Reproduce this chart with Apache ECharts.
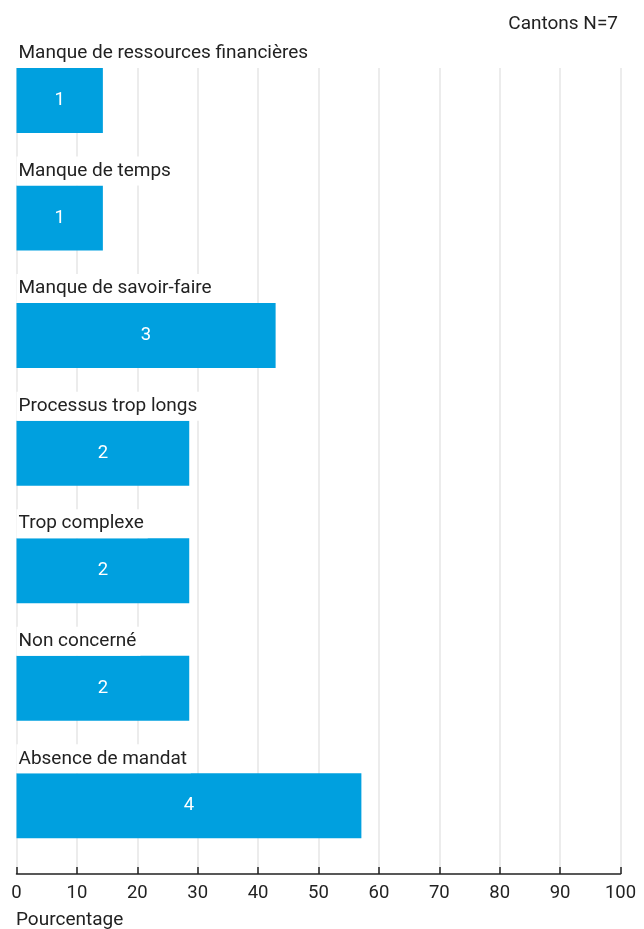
<!DOCTYPE html>
<html>
<head>
<meta charset="utf-8">
<script src="https://cdn.jsdelivr.net/npm/echarts@6/dist/echarts.min.js"></script>
<style>html,body{margin:0;padding:0;background:#fff}#c{width:644px;height:929px}</style>
</head>
<body>
<div id="c"></div>
<script>
var categories = ['Manque de ressources financières','Manque de temps','Manque de savoir-faire','Processus trop longs','Trop complexe','Non concerné','Absence de mandat'];
var percentValues = [14.3, 14.3, 42.9, 28.6, 28.6, 28.6, 57.1];
var countValues = [1, 1, 3, 2, 2, 2, 4];
var xTicks = [0, 10, 20, 30, 40, 50, 60, 70, 80, 90, 100];

var FONT = 'Roboto';
var chart = echarts.init(document.getElementById('c'), null, {renderer: 'canvas'});
chart.setOption({
  animation: false,
  backgroundColor: '#fff',
  textStyle: {fontFamily: FONT},
  title: [
    {text: 'Cantons N=7', right: 21, top: 10, textStyle: {fontFamily: FONT, fontSize: 19, fontWeight: 'normal', color: '#222'}},
    {text: 'Pourcentage', left: 11, top: 906, textStyle: {fontFamily: FONT, fontSize: 19, fontWeight: 'normal', color: '#222'}}
  ],
  grid: [
    {left: 16.5, width: 604, top: 68, bottom: 929 - 874},
    {left: 16.5, width: 604, top: 41.7, height: 822.9}
  ],
  xAxis: [
    {gridIndex: 0, type: 'value', min: 0, max: 100, interval: 10,
     axisLine: {show: true, lineStyle: {color: '#222', width: 1.5}},
     axisTick: {show: true, inside: true, length: 7, lineStyle: {color: '#222', width: 1.5}},
     axisLabel: {margin: 10, fontSize: 18.5, color: '#222', fontFamily: FONT,
       formatter: function (v) { return xTicks.indexOf(v) >= 0 ? String(v) : ''; }},
     splitLine: {show: true, lineStyle: {color: '#e6e6e6', width: 1.5}}},
    {gridIndex: 1, type: 'value', min: 0, max: 100, show: false, splitLine: {show: false}}
  ],
  yAxis: [
    {gridIndex: 0, type: 'category', data: categories, inverse: true, show: false},
    {gridIndex: 1, type: 'category', data: categories, inverse: true, show: false}
  ],
  series: [
    {type: 'bar', xAxisIndex: 1, yAxisIndex: 1, data: percentValues, barWidth: 65,
     itemStyle: {color: '#00A0DF'},
     label: {show: true, position: 'inside', color: '#fff', fontSize: 18.5, fontFamily: FONT,
       formatter: function (p) { return String(countValues[p.dataIndex]); }}},
    {type: 'bar', xAxisIndex: 1, yAxisIndex: 1, data: percentValues, barWidth: 65, barGap: '-100%',
     silent: true, itemStyle: {color: 'rgba(0,0,0,0)'},
     label: {show: true, position: [0, -14.5], align: 'left', verticalAlign: 'middle',
       fontSize: 19, lineHeight: 19, color: '#222', fontFamily: FONT,
       backgroundColor: '#fff', padding: [10, 4, 0, 2],
       formatter: function (p) { return categories[p.dataIndex]; }}}
  ]
});
</script>
</body>
</html>
